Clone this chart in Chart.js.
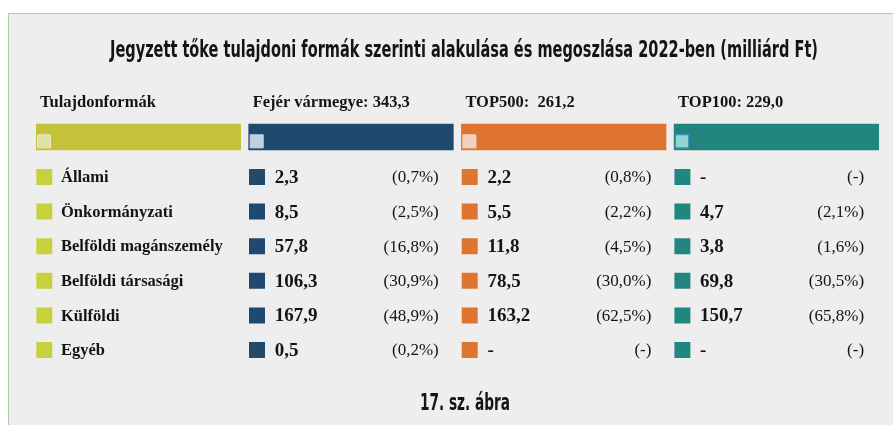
<!DOCTYPE html>
<html>
<head>
<meta charset="utf-8">
<script src="https://cdn.jsdelivr.net/npm/chart.js@4.4.1/dist/chart.umd.min.js"></script>
<style>
  body { margin: 0; background: #ffffff; }
  #panel {
    position: absolute; left: 8px; top: 13px; width: 900px; height: 430px;
    background: #eeeeee; border: 1px solid #a9cfa3;
  }
  #wrap { position: absolute; left: 0; top: 0; width: 893px; height: 425px; }
</style>
</head>
<body>
<div id="panel"></div>
<div id="wrap"><canvas id="tableChart" width="893" height="425"></canvas></div>
<script>
// Data
const chartTitle = 'Jegyzett tőke tulajdoni formák szerinti alakulása és megoszlása 2022-ben (milliárd Ft)';
const figureLabel = '17. sz. ábra';
const headers = ['Tulajdonformák', 'Fejér vármegye: 343,3', 'TOP500:  261,2', 'TOP100: 229,0'];
const categories = ['Állami', 'Önkormányzati', 'Belföldi magánszemély', 'Belföldi társasági', 'Külföldi', 'Egyéb'];

const fejerValues = [2.3, 8.5, 57.8, 106.3, 167.9, 0.5];
const fejerShares = [0.7, 2.5, 16.8, 30.9, 48.9, 0.2];
const top500Values = [2.2, 5.5, 11.8, 78.5, 163.2, null];
const top500Shares = [0.8, 2.2, 4.5, 30.0, 62.5, null];
const top100Values = [null, 4.7, 3.8, 69.8, 150.7, null];
const top100Shares = [null, 2.1, 1.6, 30.5, 65.8, null];

const seriesValues = [fejerValues, top500Values, top100Values];
const seriesShares = [fejerShares, top500Shares, top100Shares];

// Colours: label column, Fejér, TOP500, TOP100
const barColors = ['#c4c13b', '#1f4a6e', '#e0742f', '#22847f'];
const markColors = ['#c6d13d', '#1e4a6f', '#e07530', '#228680'];
const innerColors = ['#dfe4a4', '#bdd0e2', '#f1d0bc', '#93d5d1'];
const innerBorders = ['#e6e9bc', '#c8d8e8', '#f3d9c9', '#4d8fc6'];

// layout in scale units (columns on x, rows on y)
const COL_WIDTH = 0.962;
const MARK_X = 0.039;
const HEADER_TEXT_ROW = -2.14;
const HEADER_BAR_ROW = -1.156;
const HEADER_MARK_ROW = -1.03;

function fmt(v) {
    if (v === null) return '-';
    return v.toFixed(1).replace('.', ',');
}
function fmtShare(v) {
    if (v === null) return '(-)';
    return '(' + v.toFixed(1).replace('.', ',') + '%)';
}

const datasets = [];

// header bars
datasets.push({
    type: 'bar',
    indexAxis: 'y',
    data: headers.map((h, c) => ({ x: [c, c + COL_WIDTH], y: HEADER_BAR_ROW })),
    backgroundColor: barColors,
    barThickness: 26,
    order: 3
});

// small light squares in header bars
datasets.push({
    type: 'scatter',
    data: headers.map((h, c) => ({ x: c + 0.0376, y: HEADER_MARK_ROW })),
    pointStyle: 'rect',
    pointRadius: 9.2,
    backgroundColor: innerColors,
    borderColor: innerBorders,
    borderWidth: 1,
    order: 1
});

// row markers for each column
for (let c = 0; c < 4; c++) {
    datasets.push({
        type: 'scatter',
        data: categories.map((cat, r) => ({ x: c + MARK_X, y: r })),
        pointStyle: 'rect',
        pointRadius: 11.3,
        backgroundColor: markColors[c],
        borderColor: markColors[c],
        borderWidth: 0,
        order: 2
    });
}

// condensed heading text, squeezed to the width it has in the figure
function drawCondensed(ctx, text, cx, baseline, targetWidth) {
    ctx.save();
    ctx.font = 'bold 23px "DejaVu Sans Condensed", "DejaVu Sans", sans-serif';
    const w = ctx.measureText(text).width;
    const k = targetWidth / w;
    ctx.translate(cx, baseline);
    ctx.scale(k, 1);
    ctx.textAlign = 'center';
    ctx.textBaseline = 'alphabetic';
    ctx.fillText(text, 0, 0);
    ctx.restore();
}

const tableText = {
    id: 'tableText',
    afterDatasetsDraw(chart) {
        const { ctx, scales: { x, y } } = chart;
        ctx.save();
        ctx.fillStyle = '#141414';

        drawCondensed(ctx, chartTitle, 464, 56.5, 708);
        drawCondensed(ctx, figureLabel, 465, 410, 90);

        ctx.textBaseline = 'middle';
        // column headers
        ctx.font = 'bold 16.5px "Liberation Serif"';
        ctx.textAlign = 'left';
        headers.forEach((h, c) => {
            ctx.fillText(h, x.getPixelForValue(c) + 4, y.getPixelForValue(HEADER_TEXT_ROW));
        });

        // category labels
        categories.forEach((cat, r) => {
            ctx.font = 'bold 16.5px "Liberation Serif"';
            ctx.textAlign = 'left';
            ctx.fillText(cat, x.getPixelForValue(0) + 25, y.getPixelForValue(r) + 1);
        });

        // values and shares
        seriesValues.forEach((vals, s) => {
            const c = s + 1;
            vals.forEach((v, r) => {
                const py = y.getPixelForValue(r) + 1;
                ctx.font = 'bold 19px "Liberation Serif"';
                ctx.textAlign = 'left';
                ctx.fillText(fmt(v), x.getPixelForValue(c) + 26, py);
                ctx.font = '17px "Liberation Serif"';
                ctx.textAlign = 'right';
                ctx.fillText(fmtShare(seriesShares[s][r]), x.getPixelForValue(c) + 190, py);
            });
        });
        ctx.restore();
    }
};

new Chart(document.getElementById('tableChart'), {
    type: 'scatter',
    data: { datasets: datasets },
    options: {
        responsive: false,
        devicePixelRatio: 1,
        animation: false,
        events: [],
        layout: { autoPadding: false, padding: { left: 36, right: 1, top: 90.5, bottom: 57.7 } },
        scales: {
            x: { type: 'linear', display: false, offset: false, min: 0, max: 856 / 212.7 },
            y: { type: 'linear', display: false, offset: false, reverse: true, min: -2.5, max: 5.5 }
        },
        plugins: {
            legend: { display: false },
            tooltip: { enabled: false }
        }
    },
    plugins: [tableText]
});
</script>
</body>
</html>
